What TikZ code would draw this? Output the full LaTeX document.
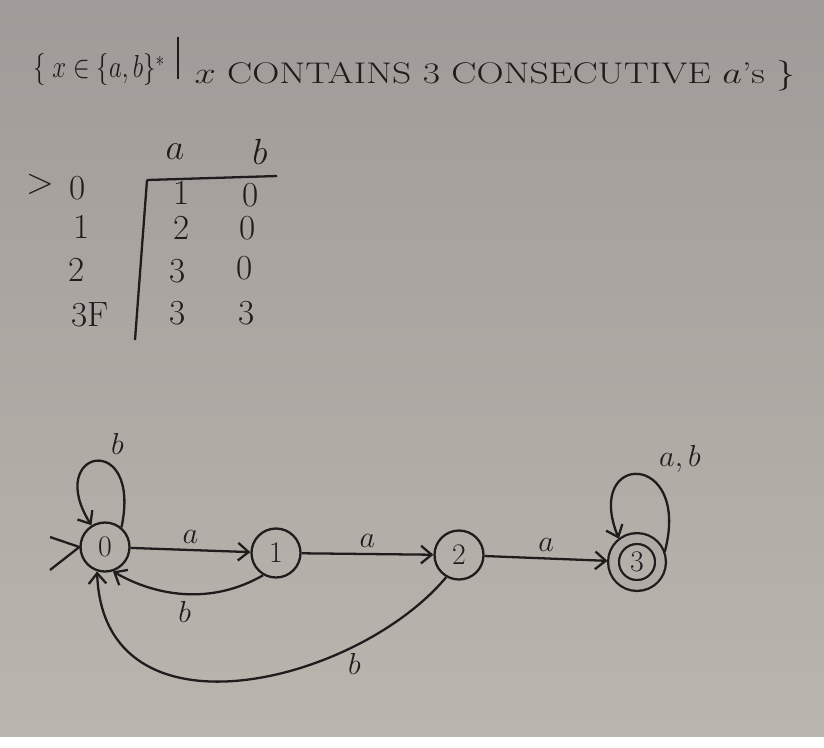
\documentclass[tikz,border=0pt]{standalone}
\usetikzlibrary{arrows.meta}
\definecolor{paperhi}{RGB}{160,155,152}
\definecolor{paperlo}{RGB}{186,181,173}
\definecolor{paper}{RGB}{176,171,166}
\definecolor{ink}{RGB}{30,28,28}
\tikzset{
  st/.style={circle, draw=ink, line width=1.3pt, minimum size=0.98cm, inner sep=0pt, text=ink, font=\fontsize{17}{17}\selectfont},
  acc/.style={st, double=paper, double distance=0.17cm, minimum size=0.94cm, outer sep=0.12cm},
  trans/.style={draw=ink, line width=1.3pt, -{Straight Barb[length=6pt,width=10pt]}},
  lbl/.style={text=ink, font=\fontsize{19}{19}\selectfont},
  cell/.style={text=ink, font=\fontsize{20}{20}\selectfont},
  rule/.style={draw=ink, line width=1.3pt},
}
\begin{document}
\begin{tikzpicture}[x=0.02cm, y=0.02cm]
  \shade[top color=paperhi, bottom color=paperlo] (0,0) rectangle (824,-736);

  % the language
  \node[lbl, font=\fontsize{17}{17}\selectfont] (setl) at (99,-70)
    {\scalebox{0.82}[1.05]{$\{\; x \in \{a,b\}^{*}$}};
  \node[text=ink] (bar) at (178,-58) {\rule{1.3pt}{0.84cm}};
  \node[lbl, font=\fontsize{17}{17}\selectfont] (setr) at (495,-76)
    {\scalebox{1.26}[1]{$x$ CONTAINS 3 CONSECUTIVE $a$'s $\}$}};

  % transition table
  \node[cell] (ha) at (175,-152) {$a$};
  \node[cell] (hb) at (260,-152) {$b$};
  \draw[rule] (147,-180) -- (277,-176);
  \draw[rule] (147,-180) -- (135,-340);
  \node[cell] (mark) at (40,-184) {$>$};
  \node[cell] (r0) at (78,-188) {0};
  \node[cell] (r1) at (82,-227) {1};
  \node[cell] (r2) at (77,-270) {2};
  \node[cell] (r3) at (90,-315) {3F};
  \node[cell] (a0) at (182,-193) {1};
  \node[cell] (b0) at (251,-195) {0};
  \node[cell] (a1) at (182,-228) {2};
  \node[cell] (b1) at (248,-228) {0};
  \node[cell] (a2) at (178,-271) {3};
  \node[cell] (b2) at (245,-268) {0};
  \node[cell] (a3) at (178,-313) {3};
  \node[cell] (b3) at (247,-313) {3};

  % the automaton
  \node[st] (q0) at (105,-547) {0};
  \node[st] (q1) at (276,-553) {1};
  \node[st] (q2) at (459,-555) {2};
  \node[acc] (q3) at (637,-562) {3};

  \coordinate (init1) at (50,-537);
  \coordinate (init2) at (50,-570);
  \draw[rule] (init1) -- (q0.west) -- (init2);

  \draw[trans] (q0) -- node[lbl, above] {$a$} (q1);
  \draw[trans] (q1) -- node[lbl, above] {$a$} (q2);
  \draw[trans] (q2) -- node[lbl, above] {$a$} (q3);

  \draw[trans] (q0.50) .. controls +(78:100) and +(122:90) .. node[lbl, above right, pos=0.42] {$b$} (q0.122);
  \draw[trans] (q3.20) .. controls +(75:105) and +(112:95) .. node[lbl, above right, pos=0.38] {$a,b$} (q3.128);

  \draw[trans] (q1.-120) .. controls +(-150:60) and +(-30:50) .. node[lbl, below] {$b$} (q0.-72);
  \draw[trans] (q2.-120) .. controls +(-130:140) and +(-88:175) .. node[lbl, below, pos=0.25] {$b$} (q0.-108);
\end{tikzpicture}
\end{document}
